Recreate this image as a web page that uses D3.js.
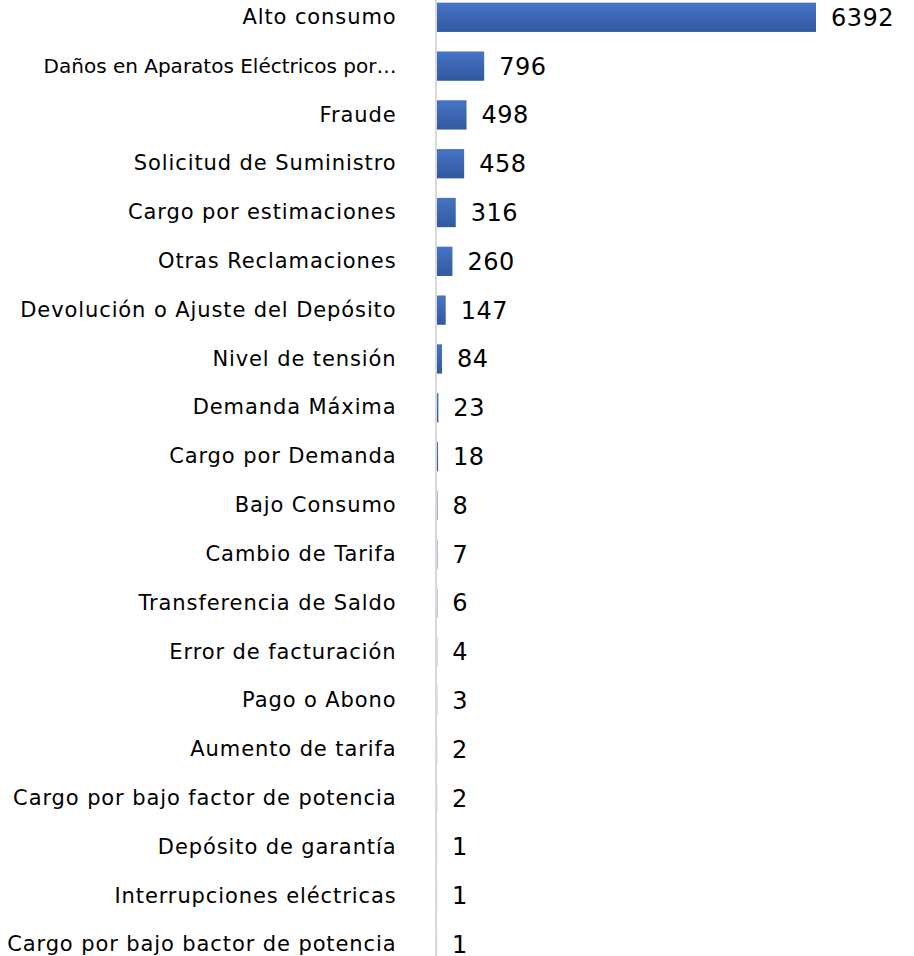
<!DOCTYPE html>
<html>
<head>
<meta charset="utf-8">
<script src="https://cdn.jsdelivr.net/npm/d3@7"></script>
<style>
  body { margin: 0; background: #fff; }
  svg { display: block; }
</style>
</head>
<body>
<svg width="914" height="956"></svg>
<script>
const categories = [
    "Alto consumo",
    "Daños en Aparatos Eléctricos por…",
    "Fraude",
    "Solicitud de Suministro",
    "Cargo por estimaciones",
    "Otras Reclamaciones",
    "Devolución o Ajuste del Depósito",
    "Nivel de tensión",
    "Demanda Máxima",
    "Cargo por Demanda",
    "Bajo Consumo",
    "Cambio de Tarifa",
    "Transferencia de Saldo",
    "Error de facturación",
    "Pago o Abono",
    "Aumento de tarifa",
    "Cargo por bajo factor de potencia",
    "Depósito de garantía",
    "Interrupciones eléctricas",
    "Cargo por bajo bactor de potencia"
];
const counts = [6392, 796, 498, 458, 316, 260, 147, 84, 23, 18, 8, 7, 6, 4, 3, 2, 2, 1, 1, 1];

const data = categories.map((c, i) => ({ label: c, value: counts[i] }));

const svg = d3.select("svg");
const attr_area = {
    width: 914,
    height: 956,
    axisX: 437,
    barMax: 379
};

const font = "DejaVu Sans";

// gradient like the office bar fill
const defs = svg.append("defs");
const grad = defs.append("linearGradient")
    .attr("id", "barGrad")
    .attr("x1", 0).attr("y1", 0).attr("x2", 0).attr("y2", 1);
grad.append("stop").attr("offset", "0%").attr("stop-color", "#4674c6");
grad.append("stop").attr("offset", "100%").attr("stop-color", "#32599f");

const scaleX = d3.scaleLinear()
    .domain([0, d3.max(counts)])
    .range([0, attr_area.barMax]);

const scaleY = d3.scaleBand()
    .domain(categories)
    .range([-7.1, 969])
    .paddingInner(0.4)
    .paddingOuter(0.2);

const axisY = d3.axisLeft(scaleY)
    .tickSize(0)
    .tickPadding(39);

const gAxis = svg.append("g")
    .attr("transform", `translate(${attr_area.axisX - 1.5}, 0)`)
    .call(axisY);

gAxis.select(".domain")
    .attr("stroke", "#d9d9d9")
    .attr("stroke-width", 2);

gAxis.selectAll("text")
    .attr("fill", "#000")
    .style("font-family", font)
    .style("font-size", "21px")
    .style("letter-spacing", "0.9px");

// truncated label is narrower in the original
gAxis.selectAll("text")
    .filter(d => d.endsWith("…"))
    .style("font-size", "20px")
    .style("letter-spacing", "0px");

svg.selectAll(".bar")
    .data(data)
    .enter()
    .append("rect")
    .attr("class", "bar")
    .attr("x", attr_area.axisX)
    .attr("y", d => scaleY(d.label))
    .attr("width", d => scaleX(d.value))
    .attr("height", scaleY.bandwidth())
    .style("fill", "url(#barGrad)");

svg.selectAll(".val")
    .data(data)
    .enter()
    .append("text")
    .attr("class", "val")
    .attr("x", d => attr_area.axisX + scaleX(d.value) + 15)
    .attr("y", d => scaleY(d.label) + scaleY.bandwidth() / 2)
    .attr("dy", "0.35em")
    .style("font-family", font)
    .style("font-size", "24px")
    .style("letter-spacing", "0.5px")
    .style("fill", "#000")
    .text(d => d.value);
</script>
</body>
</html>
